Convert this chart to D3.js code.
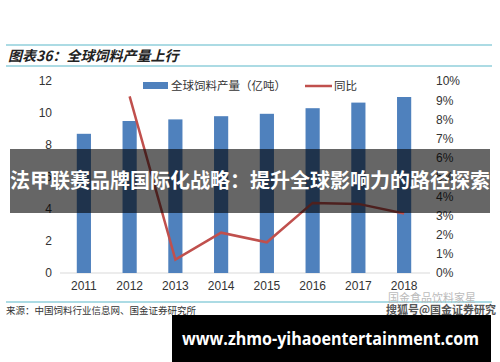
<!DOCTYPE html>
<html><head><meta charset="utf-8">
<script src="https://cdn.jsdelivr.net/npm/d3@7/dist/d3.min.js"></script>
<style>body{margin:0;background:#fff}svg{display:block}</style>
</head><body><svg id="c" width="500" height="362"></svg>
<script>
const years = ["2011","2012","2013","2014","2015","2016","2017","2018"];
const output = [8.7, 9.5, 9.6, 9.8, 9.95, 10.3, 10.65, 11.0];
const yoy = [null, 9.2, 0.7, 2.1, 1.6, 3.65, 3.6, 3.1];
const leftTicks = [0,2,4,6,8,10,12];
const rightTicks = [0,1,2,3,4,5,6,7,8,9,10];

const svg = d3.select("#c");
const x = d3.scaleBand().domain(years).range([61,427]).paddingInner(0.69).paddingOuter(0.345);
const yL = d3.scaleLinear().domain([0,12]).range([273,81]);
const yR = d3.scaleLinear().domain([0,10]).range([273,81]);
const cjk = "'Noto Sans CJK SC', sans-serif";
const lat = "'Liberation Sans', Arial, sans-serif";

// title area
svg.append("line").attr("x1",6).attr("x2",492).attr("y1",45).attr("y2",45).attr("stroke","#5bb8c9").attr("stroke-width",1.2);
svg.append("line").attr("x1",6).attr("x2",492).attr("y1",66).attr("y2",66).attr("stroke","#5bb8c9").attr("stroke-width",1.2);
svg.append("text").attr("x",8).attr("y",61).attr("font-family",cjk).attr("font-size",14).attr("font-weight","bold").attr("font-style","italic").attr("fill","#222").text("图表36：全球饲料产量上行");

// axis baseline
svg.append("line").attr("x1",60).attr("x2",430).attr("y1",yL(0)).attr("y2",yL(0)).attr("stroke","#d9d9d9").attr("stroke-width",1);

// bars
svg.selectAll("rect.bar").data(output).join("rect").attr("class","bar")
  .attr("x",(d,i)=>x(years[i])).attr("width",x.bandwidth())
  .attr("y",d=>yL(d)).attr("height",d=>yL(0)-yL(d)).attr("fill","#4f81bd");

// line
const pts = years.map((y,i)=>[y,yoy[i]]).filter(d=>d[1]!==null);
svg.append("path").datum(pts)
  .attr("d",d3.line().x(d=>x(d[0])+x.bandwidth()/2).y(d=>yR(d[1])))
  .attr("fill","none").attr("stroke","#c0504d").attr("stroke-width",2.5);

// left axis
const gL = svg.append("g").attr("transform","translate(52,0)")
  .call(d3.axisLeft(yL).tickValues(leftTicks).tickSize(0).tickPadding(0));
gL.select(".domain").remove();
gL.selectAll("text").attr("font-family",lat).attr("font-size",12).attr("fill","#333");

// right axis
const gR = svg.append("g").attr("transform","translate(436,0)")
  .call(d3.axisRight(yR).tickValues(rightTicks).tickSize(0).tickPadding(0).tickFormat(d=>d+"%"));
gR.select(".domain").remove();
gR.selectAll("text").attr("font-family",lat).attr("font-size",12).attr("fill","#333");

// x axis
const gX = svg.append("g").attr("transform",`translate(0,${yL(0)})`)
  .call(d3.axisBottom(x).tickSize(0).tickPadding(8));
gX.select(".domain").remove();
gX.selectAll("text").attr("font-family",lat).attr("font-size",12).attr("fill","#333");

// legend
svg.append("rect").attr("x",143).attr("y",82).attr("width",25).attr("height",7).attr("fill","#4f81bd");
svg.append("text").attr("x",171).attr("y",90).attr("font-family",cjk).attr("font-size",11.5).attr("fill","#333").text("全球饲料产量（亿吨）");
svg.append("line").attr("x1",305).attr("x2",332).attr("y1",86).attr("y2",86).attr("stroke","#c0504d").attr("stroke-width",2.5);
svg.append("text").attr("x",334).attr("y",90).attr("font-family",cjk).attr("font-size",11.5).attr("fill","#333").text("同比");

// source
svg.append("line").attr("x1",6).attr("x2",492).attr("y1",302).attr("y2",302).attr("stroke","#5bb8c9").attr("stroke-width",1.2);
svg.append("text").attr("x",6).attr("y",314).attr("font-family",cjk).attr("font-size",9.5).attr("fill","#333").text("来源：中国饲料行业信息网、国金证券研究所");

// watermark
svg.append("text").attr("x",388).attr("y",302).attr("font-family",cjk).attr("font-size",11).attr("fill","#bbb").text("国金食品饮料家星");
svg.append("text").attr("x",386).attr("y",314).attr("font-family",cjk).attr("font-size",11).attr("font-weight","bold").attr("fill","#555").text("搜狐号@国金证券研究");

// overlay band
svg.append("rect").attr("x",10).attr("y",149).attr("width",480).attr("height",64).attr("fill","rgba(0,0,0,0.6)");
svg.append("text").attr("x",250).attr("y",188).attr("text-anchor","middle").attr("font-family",cjk).attr("font-size",20).attr("font-weight","bold").attr("fill","#fff").text("法甲联赛品牌国际化战略：提升全球影响力的路径探索");

// bottom band
svg.append("rect").attr("x",172).attr("y",315).attr("width",319).attr("height",47).attr("fill","#000");
svg.append("text").attr("x",182).attr("y",345).attr("font-family","'Open Sans', 'DejaVu Sans', sans-serif").attr("font-size",17.5).attr("font-weight","bold").attr("fill","#fff")
  .attr("textLength",297).attr("lengthAdjust","spacingAndGlyphs").text("www.zhmo-yihaoentertainment.com");
</script></body></html>
